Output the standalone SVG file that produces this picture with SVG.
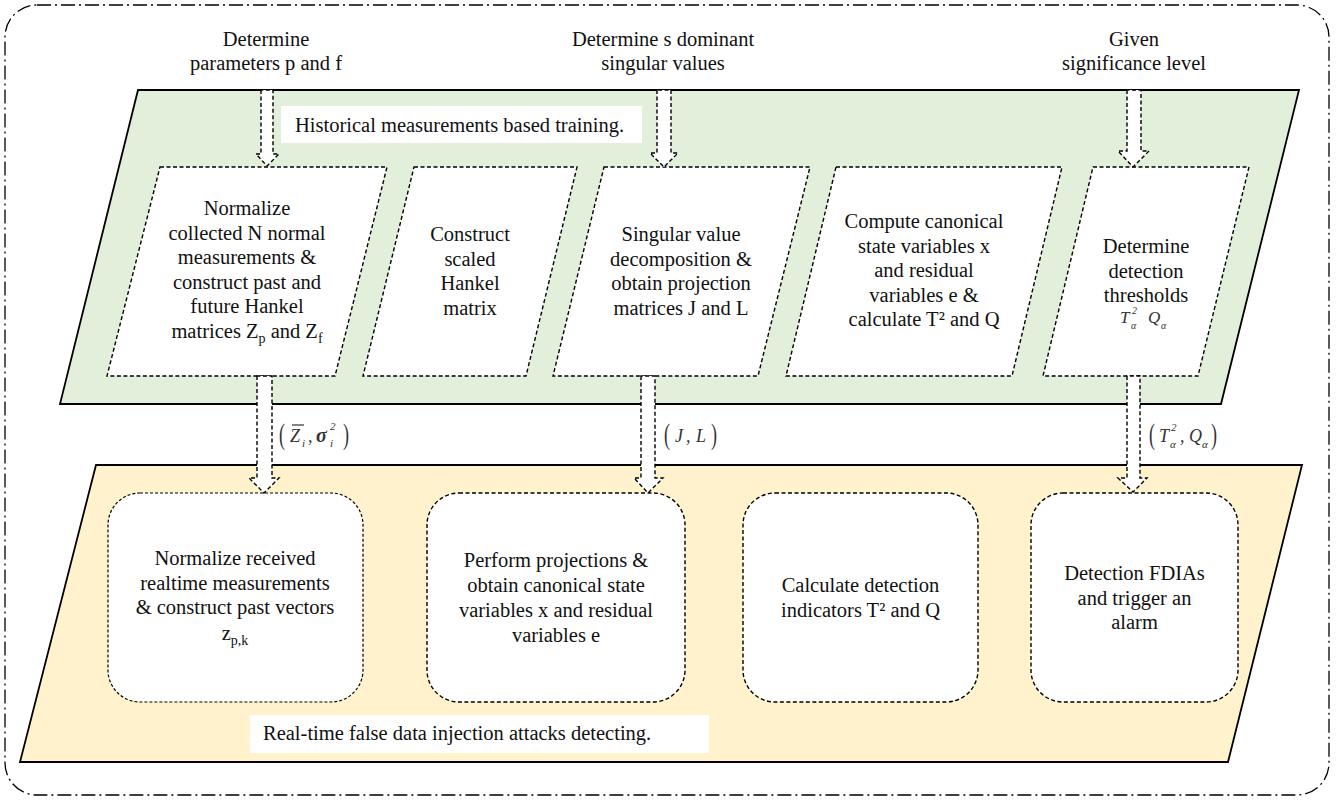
<svg xmlns="http://www.w3.org/2000/svg" width="1343" height="800" viewBox="0 0 1343 800">
<defs>
<style>
.t{font-family:"Liberation Serif","Times New Roman",serif;font-size:20.5px;fill:#111;text-anchor:middle}
.ts{font-family:"Liberation Serif","Times New Roman",serif;font-size:20.5px;fill:#111}
.m{font-family:"Liberation Serif","Times New Roman",serif;font-style:italic;fill:#333}
.p{font-family:"Liberation Serif","Times New Roman",serif;fill:#333;font-size:30px}
.node{fill:#fff;stroke:#000;stroke-width:1.4;stroke-dasharray:4 2.5}
.rnode{fill:#fff;stroke:#000;stroke-width:1.4;stroke-dasharray:4 2.5}
.arr{fill:#fff;stroke:#000;stroke-width:1.4;stroke-dasharray:4 2.5}
.band{stroke:#000;stroke-width:1.8}
</style>
</defs>
<rect x="5" y="5" width="1324" height="790" rx="32" ry="32" fill="#fff" stroke="#000" stroke-width="1.3" stroke-dasharray="14 4 2 4"/>

<g id="training-band">
<polygon class="band" points="138,90 1299,90 1221,404 60,404" fill="#E2EFDA"/>
<rect x="281" y="106" width="361" height="37" fill="#fff"/>
<text class="ts" x="295" y="132">Historical measurements based training.</text>
</g>
<g id="detecting-band">
<polygon class="band" points="96,465 1302,465 1228,762 20,762" fill="#FFF2CC"/>
<rect x="250" y="715" width="459" height="38" fill="#fff"/>
<text class="ts" x="263" y="740">Real-time false data injection attacks detecting.</text>
</g>

<g id="label-pf">
<text class="t" x="266" y="46">Determine</text>
<text class="t" x="266" y="70">parameters p and f</text>
</g>
<g id="label-s">
<text class="t" x="663" y="46">Determine s dominant</text>
<text class="t" x="663" y="70">singular values</text>
</g>
<g id="label-sig">
<text class="t" x="1134" y="46">Given</text>
<text class="t" x="1134" y="70">significance level</text>
</g>

<g id="n1">
<polygon class="node" points="160,167 387,167 335,376 107,376"/>
<text class="t" x="247" y="215">Normalize</text>
<text class="t" x="247" y="239.5">collected N normal</text>
<text class="t" x="247" y="264">measurements &amp;</text>
<text class="t" x="247" y="288.5">construct past and</text>
<text class="t" x="247" y="313">future Hankel</text>
<text class="t" x="247" y="337.5">matrices Z<tspan dy="5" font-size="14">p</tspan><tspan dy="-5"> and Z</tspan><tspan dy="5" font-size="14">f</tspan></text>
</g>
<g id="n2">
<polygon class="node" points="414,167 577,167 526,376 363,376"/>
<text class="t" x="470" y="241">Construct</text>
<text class="t" x="470" y="265.5">scaled</text>
<text class="t" x="470" y="290">Hankel</text>
<text class="t" x="470" y="314.5">matrix</text>
</g>
<g id="n3">
<polygon class="node" points="604,167 810,167 758,376 553,376"/>
<text class="t" x="681" y="241">Singular value</text>
<text class="t" x="681" y="265.5">decomposition &amp;</text>
<text class="t" x="681" y="290">obtain projection</text>
<text class="t" x="681" y="314.5">matrices J and L</text>
</g>
<g id="n4">
<polygon class="node" points="836,167 1062,167 1012,376 786,376"/>
<text class="t" x="924" y="228">Compute canonical</text>
<text class="t" x="924" y="252.5">state variables x</text>
<text class="t" x="924" y="277">and residual</text>
<text class="t" x="924" y="301.5">variables e &amp;</text>
<text class="t" x="924" y="326">calculate T² and Q</text>
</g>
<g id="n5">
<polygon class="node" points="1093,167 1249,167 1198,376 1043,376"/>
<text class="t" x="1146" y="253">Determine</text>
<text class="t" x="1146" y="277.5">detection</text>
<text class="t" x="1146" y="302">thresholds</text>
<text class="m" x="1120" y="323" font-size="17">T</text>
<text class="m" x="1132" y="314" font-size="10">2</text>
<text class="m" x="1131" y="329" font-size="10">α</text>
<text class="m" x="1148" y="323" font-size="17">Q</text>
<text class="m" x="1161" y="329" font-size="10">α</text>
</g>

<g id="r1">
<rect class="rnode" x="108" y="493" width="255" height="209" rx="32" ry="32" style="stroke-dasharray:3 2;stroke-width:1.2"/>
<text class="t" x="235" y="565">Normalize received</text>
<text class="t" x="235" y="589.5">realtime measurements</text>
<text class="t" x="235" y="614">&amp; construct past vectors</text>
<text class="t" x="235" y="640">z<tspan dy="5" font-size="14">p,k</tspan></text>
</g>
<g id="r2">
<rect class="rnode" x="427" y="493" width="258" height="209" rx="32" ry="32"/>
<text class="t" x="556" y="567">Perform projections &amp;</text>
<text class="t" x="556" y="592">obtain canonical state</text>
<text class="t" x="556" y="617">variables x and residual</text>
<text class="t" x="556" y="642">variables e</text>
</g>
<g id="r3">
<rect class="rnode" x="743" y="493" width="235" height="209" rx="32" ry="32"/>
<text class="t" x="860.5" y="592">Calculate detection</text>
<text class="t" x="860.5" y="617">indicators T² and Q</text>
</g>
<g id="r4">
<rect class="rnode" x="1031" y="493" width="207" height="209" rx="32" ry="32"/>
<text class="t" x="1134.5" y="580">Detection FDIAs</text>
<text class="t" x="1134.5" y="604.5">and trigger an</text>
<text class="t" x="1134.5" y="629">alarm</text>
</g>

<g id="connectors">
<path class="arr" d="M261,90 L261,154 L256,154 L267,166 L279,154 L273,154 L273,90 Z"/>
<path class="arr" d="M657,90 L657,153 L650,153 L664,167 L678,153 L671,153 L671,90 Z"/>
<path class="arr" d="M1127,90 L1127,151 L1118,151 L1133,167 L1149,151 L1141,151 L1141,90 Z"/>
<path class="arr" d="M257,376 L257,478 L249,478 L264,493 L279,478 L272,478 L272,376 Z"/>
<path class="arr" d="M641,376 L641,478 L634,478 L648,493 L663,478 L655,478 L655,376 Z"/>
<path class="arr" d="M1127,376 L1127,478 L1118,478 L1133,492 L1147,478 L1140,478 L1140,376 Z"/>
</g>

<g id="label-zs">
<text class="p" x="279" y="444" font-size="30" transform="translate(279 444) scale(0.6 1) translate(-279 -444)">(</text>
<text class="m" x="290" y="442" font-size="18">Z</text>
<line x1="292" y1="425" x2="304" y2="425" stroke="#333" stroke-width="1.2"/>
<text class="m" x="302" y="447" font-size="11">i</text>
<text class="m" x="308" y="442" font-size="18">,</text>
<text class="m" x="316" y="442" font-size="20" font-weight="bold">σ</text>
<text class="m" x="330" y="430" font-size="11">2</text>
<text class="m" x="330" y="447" font-size="11">i</text>
<text class="p" x="343" y="444" font-size="30" transform="translate(343 444) scale(0.6 1) translate(-343 -444)">)</text>
</g>
<g id="label-jl">
<text class="p" x="664" y="444" font-size="30" transform="translate(664 444) scale(0.6 1) translate(-664 -444)">(</text>
<text class="m" x="675" y="442" font-size="18">J</text>
<text class="m" x="686" y="442" font-size="18">,</text>
<text class="m" x="696" y="442" font-size="18">L</text>
<text class="p" x="711" y="444" font-size="30" transform="translate(711 444) scale(0.6 1) translate(-711 -444)">)</text>
</g>
<g id="label-tq">
<text class="p" x="1149" y="444" font-size="30" transform="translate(1149 444) scale(0.6 1) translate(-1149 -444)">(</text>
<text class="m" x="1159" y="442" font-size="18">T</text>
<text class="m" x="1171" y="431" font-size="11">2</text>
<text class="m" x="1170" y="448" font-size="11">α</text>
<text class="m" x="1180" y="442" font-size="18">,</text>
<text class="m" x="1189" y="442" font-size="18">Q</text>
<text class="m" x="1202" y="448" font-size="11">α</text>
<text class="p" x="1211" y="444" font-size="30" transform="translate(1211 444) scale(0.6 1) translate(-1211 -444)">)</text>
</g>
</svg>
